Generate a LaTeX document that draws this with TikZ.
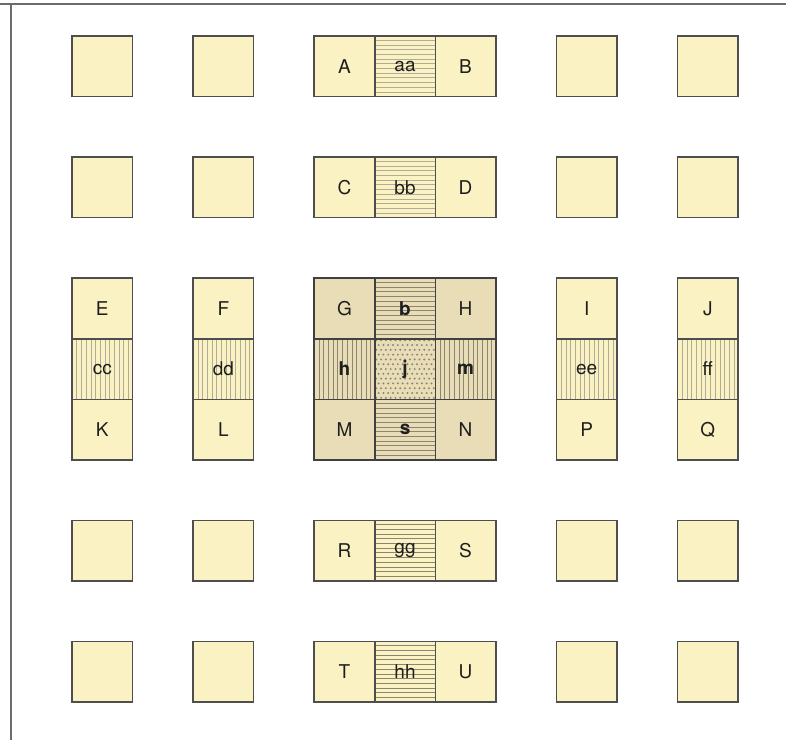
\documentclass[tikz,border=0pt]{standalone}
\usepackage{fontspec}
\setmainfont{TeX Gyre Heros}
\definecolor{cream}{HTML}{FBF2C4}
\definecolor{tan}{HTML}{E9DDB8}
\definecolor{edge}{HTML}{4E4E4E}
\definecolor{hatch}{HTML}{B0AC98}
\definecolor{hatchd}{HTML}{8C8670}
\definecolor{txt}{HTML}{1E1E1E}
\def\U{60.55}
\tikzset{
  cell/.style={draw=edge, line width=1.6pt, fill=cream, minimum size=\U pt, inner sep=0pt,
    font=\fontsize{19}{21}\selectfont, text=txt},
  dark/.style={fill=tan, draw=black!75},
  boldlabel/.style={font=\fontsize{19}{21}\selectfont\bfseries},
  hhatch/.style={path picture={\foreach \k in {1,...,12}
      \draw[#1, line width=0.6pt] ([yshift=\k*4.7pt]path picture bounding box.south west) -- ([yshift=\k*4.7pt]path picture bounding box.south east);}},
  vhatch/.style={path picture={\foreach \k in {1,...,12}
      \draw[#1, line width=0.6pt] ([xshift=\k*4.7pt]path picture bounding box.south west) -- ([xshift=\k*4.7pt]path picture bounding box.north west);}},
  dots/.style={path picture={\foreach \a in {0,...,12} \foreach \b in {0,...,12}
      \fill[hatchd] ([xshift={\a*4.8pt+(mod(\b,2))*2.4pt+1.5pt},yshift={\b*4.8pt+1.5pt}]path picture bounding box.south west) circle (1.1pt);}},
  frame/.style={draw=gray!85!black, line width=1.4pt}
}
\newcommand{\pos}[2]{({72+(#1+0.5)*\U},{36+(#2+0.5)*\U})}
\begin{document}
\begin{tikzpicture}[x=1pt,y=-1pt]
\useasboundingbox (0,0) rectangle (786,740);
\fill[white] (0,0) rectangle (786,740);
\draw[frame] (0,4) -- (786,4);
\draw[frame] (11,4) -- (11,740);
% blank squares
\foreach \c in {0,2,8,10} \foreach \r in {0,2,8,10}
  \node[cell] (q\c-\r) at \pos{\c}{\r} {};
% horizontal triples
\node[cell] (A) at \pos{4}{0} {A};
\node[cell, hhatch=hatch] (aa) at \pos{5}{0} {aa};
\node[cell] (B) at \pos{6}{0} {B};
\node[cell] (C) at \pos{4}{2} {C};
\node[cell, hhatch=hatch] (bb) at \pos{5}{2} {bb};
\node[cell] (D) at \pos{6}{2} {D};
\node[cell] (R) at \pos{4}{8} {R};
\node[cell, hhatch=hatchd] (gg) at \pos{5}{8} {gg};
\node[cell] (S) at \pos{6}{8} {S};
\node[cell] (T) at \pos{4}{10} {T};
\node[cell, hhatch=hatchd] (hh) at \pos{5}{10} {hh};
\node[cell] (U) at \pos{6}{10} {U};
% vertical triples
\node[cell] (E) at \pos{0}{4} {E};
\node[cell, vhatch=hatch] (cc) at \pos{0}{5} {cc};
\node[cell] (K) at \pos{0}{6} {K};
\node[cell] (F) at \pos{2}{4} {F};
\node[cell, vhatch=hatch] (dd) at \pos{2}{5} {dd};
\node[cell] (L) at \pos{2}{6} {L};
\node[cell] (I) at \pos{8}{4} {I};
\node[cell, vhatch=hatch] (ee) at \pos{8}{5} {ee};
\node[cell] (P) at \pos{8}{6} {P};
\node[cell] (J) at \pos{10}{4} {J};
\node[cell, vhatch=hatch] (ff) at \pos{10}{5} {ff};
\node[cell] (Q) at \pos{10}{6} {Q};
% centre block
\node[cell, dark] (G) at \pos{4}{4} {G};
\node[cell, dark, boldlabel, hhatch=hatchd] (b) at \pos{5}{4} {b};
\node[cell, dark] (H) at \pos{6}{4} {H};
\node[cell, dark, boldlabel, vhatch=hatchd] (h) at \pos{4}{5} {h};
\node[cell, dark, boldlabel, dots] (j) at \pos{5}{5} {j};
\node[cell, dark, boldlabel, vhatch=hatchd] (m) at \pos{6}{5} {m};
\node[cell, dark] (M) at \pos{4}{6} {M};
\node[cell, dark, boldlabel, hhatch=hatchd] (s) at \pos{5}{6} {s};
\node[cell, dark] (N) at \pos{6}{6} {N};
\end{tikzpicture}
\end{document}
